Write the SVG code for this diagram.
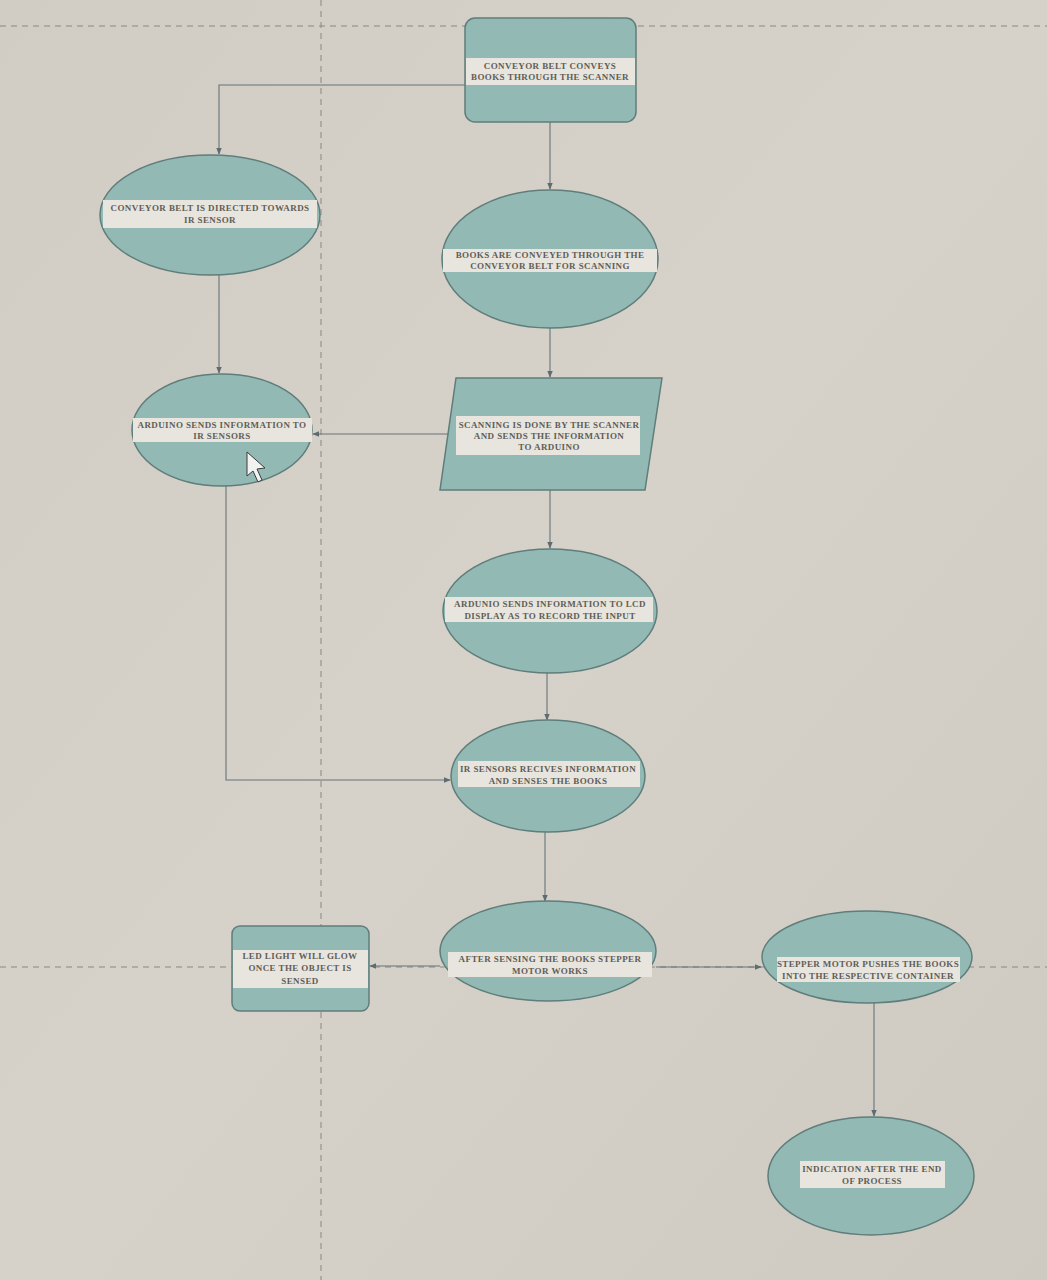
<svg xmlns="http://www.w3.org/2000/svg" width="1047" height="1280" viewBox="0 0 1047 1280">
<defs>
<linearGradient id="bg" x1="0" y1="0" x2="1" y2="1">
<stop offset="0" stop-color="#d2cdc4"/>
<stop offset="0.5" stop-color="#d6d2c9"/>
<stop offset="1" stop-color="#cfcac1"/>
</linearGradient>
<marker id="ah" viewBox="0 0 10 10" refX="9" refY="5" markerWidth="7" markerHeight="7" orient="auto-start-reverse" markerUnits="userSpaceOnUse">
<path d="M0,1 L10,5 L0,9 z" fill="#5e6b70"/>
</marker>
<style>
.shape{fill:#93b9b4;stroke:#5f7d7a;stroke-width:1.5}
.band{fill:#e7e5de}
.t{font-family:"Liberation Serif","Times New Roman",serif;font-size:9px;letter-spacing:0.4px;font-weight:bold;fill:#615d57;text-anchor:middle}
.c{fill:none;stroke:#66737a;stroke-width:1.1;marker-end:url(#ah)}
.guide{stroke:#8a8780;stroke-width:1;stroke-dasharray:6 5;fill:none}
</style>
</defs>
<rect width="1047" height="1280" fill="url(#bg)"/>
<g id="guides">
<line class="guide" x1="0" y1="26" x2="1047" y2="26"/>
<line class="guide" x1="321" y1="0" x2="321" y2="1280"/>
<line class="guide" x1="0" y1="967" x2="1047" y2="967"/>
</g>
<g id="connectors">
<polyline class="c" points="465,85 219,85 219,154"/>
<line class="c" x1="550" y1="122" x2="550" y2="189"/>
<line class="c" x1="550" y1="328" x2="550" y2="377"/>
<line class="c" x1="219" y1="275" x2="219" y2="373"/>
<line class="c" x1="449" y1="434" x2="313" y2="434"/>
<line class="c" x1="550" y1="490" x2="550" y2="548"/>
<line class="c" x1="547" y1="673" x2="547" y2="720"/>
<polyline class="c" points="226,486 226,780 450,780"/>
<line class="c" x1="545" y1="832" x2="545" y2="901"/>
<line class="c" x1="440" y1="966" x2="370" y2="966"/>
<line class="c" x1="656" y1="967" x2="761" y2="967"/>
<line class="c" x1="874" y1="1003" x2="874" y2="1116"/>
</g>
<g id="n1">
<rect class="shape" x="465" y="18" width="171" height="104" rx="10"/>
<rect class="band" x="466" y="58" width="169" height="27"/>
<text class="t" x="550" y="69">CONVEYOR BELT CONVEYS</text>
<text class="t" x="550" y="80">BOOKS THROUGH THE SCANNER</text>
</g>
<g id="n2">
<ellipse class="shape" cx="210" cy="215" rx="110" ry="60"/>
<rect class="band" x="103" y="200" width="214" height="28"/>
<text class="t" x="210" y="211">CONVEYOR BELT IS DIRECTED TOWARDS</text>
<text class="t" x="210" y="223">IR SENSOR</text>
</g>
<g id="n3">
<ellipse class="shape" cx="550" cy="259" rx="108" ry="69"/>
<rect class="band" x="443" y="249" width="214" height="23"/>
<text class="t" x="550" y="258">BOOKS ARE CONVEYED THROUGH THE</text>
<text class="t" x="550" y="269">CONVEYOR BELT FOR SCANNING</text>
</g>
<g id="n4">
<ellipse class="shape" cx="222" cy="430" rx="90" ry="56"/>
<rect class="band" x="133" y="418" width="179" height="24"/>
<text class="t" x="222" y="428">ARDUINO SENDS INFORMATION TO</text>
<text class="t" x="222" y="439">IR SENSORS</text>
</g>
<g id="n5">
<polygon class="shape" points="456,378 662,378 645,490 440,490"/>
<rect class="band" x="456" y="416" width="184" height="39"/>
<text class="t" x="549" y="428">SCANNING IS DONE BY THE SCANNER</text>
<text class="t" x="549" y="439">AND SENDS THE INFORMATION</text>
<text class="t" x="549" y="450">TO ARDUINO</text>
</g>
<g id="n6">
<ellipse class="shape" cx="550" cy="611" rx="107" ry="62"/>
<rect class="band" x="445" y="597" width="208" height="25"/>
<text class="t" x="550" y="607">ARDUNIO SENDS INFORMATION TO LCD</text>
<text class="t" x="550" y="619">DISPLAY AS TO RECORD THE INPUT</text>
</g>
<g id="n7">
<ellipse class="shape" cx="548" cy="776" rx="97" ry="56"/>
<rect class="band" x="458" y="761" width="182" height="26"/>
<text class="t" x="548" y="772">IR SENSORS RECIVES INFORMATION</text>
<text class="t" x="548" y="784">AND SENSES THE BOOKS</text>
</g>
<g id="n8">
<rect class="shape" x="232" y="926" width="137" height="85" rx="8"/>
<rect class="band" x="233" y="950" width="135" height="38"/>
<text class="t" x="300" y="959">LED LIGHT WILL GLOW</text>
<text class="t" x="300" y="971">ONCE THE OBJECT IS</text>
<text class="t" x="300" y="984">SENSED</text>
</g>
<g id="n9">
<ellipse class="shape" cx="548" cy="951" rx="108" ry="50"/>
<rect class="band" x="448" y="952" width="204" height="25"/>
<text class="t" x="550" y="962">AFTER SENSING THE BOOKS STEPPER</text>
<text class="t" x="550" y="974">MOTOR WORKS</text>
</g>
<g id="n10">
<ellipse class="shape" cx="867" cy="957" rx="105" ry="46"/>
<rect class="band" x="777" y="957" width="183" height="25"/>
<text class="t" x="868" y="967">STEPPER MOTOR PUSHES THE BOOKS</text>
<text class="t" x="868" y="979">INTO THE  RESPECTIVE CONTAINER</text>
</g>
<g id="n11">
<ellipse class="shape" cx="871" cy="1176" rx="103" ry="59"/>
<rect class="band" x="800" y="1161" width="145" height="27"/>
<text class="t" x="872" y="1172">INDICATION AFTER THE END</text>
<text class="t" x="872" y="1184">OF PROCESS</text>
</g>
<g id="cursor">
<polygon points="247,452 247,476 253,471 258,482 262,480 257,469 265,468" fill="#f2f2f0" stroke="#3a3a3a" stroke-width="1"/>
</g>
</svg>
